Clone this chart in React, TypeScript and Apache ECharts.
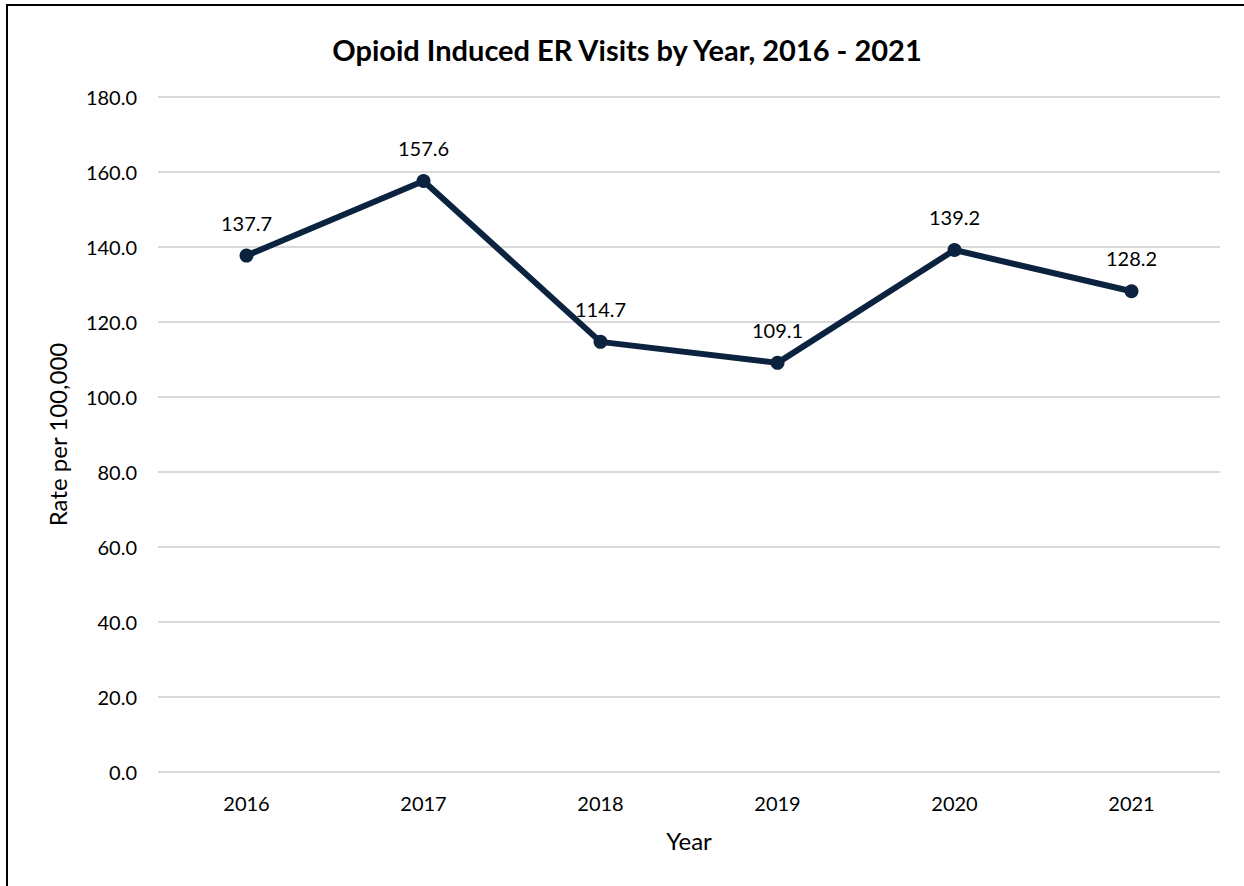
import React, { useEffect, useRef } from "react";
import * as echarts from "echarts";

const years = ["2016", "2017", "2018", "2019", "2020", "2021"];
const rates = [137.7, 157.6, 114.7, 109.1, 139.2, 128.2];
const titleText = "Opioid Induced ER Visits by Year, 2016 - 2021";
const yName = "Rate per 100,000";
const xName = "Year";

const FONT = "Lato, 'Open Sans', sans-serif";

export default function App() {
  const ref = useRef<HTMLDivElement>(null);
  useEffect(() => {
    const chart = echarts.init(ref.current!, null, { renderer: "svg" });
    chart.setOption({
      animation: false,
      backgroundColor: "#ffffff",
      textStyle: { fontFamily: FONT },
      title: {
        text: titleText,
        left: 622,
        top: 30,
        textAlign: "center",
        textStyle: { fontSize: 29, fontWeight: "bold", color: "#000", fontFamily: FONT },
      },
      graphic: [
        {
          type: "rect",
          shape: { x: 7, y: 5, width: 1260, height: 900 },
          style: { fill: "none", stroke: "#000", lineWidth: 2 },
          silent: true,
        },
      ],
      grid: { left: 158, right: 24, top: 97, bottom: 114, containLabel: false },
      xAxis: {
        type: "category",
        data: years,
        boundaryGap: true,
        name: xName,
        nameLocation: "middle",
        nameGap: 56,
        nameTextStyle: { fontSize: 24, color: "#000", fontFamily: FONT },
        axisLine: { show: false },
        axisTick: { show: false },
        axisLabel: { fontSize: 20, color: "#000", margin: 21, fontFamily: FONT },
      },
      yAxis: {
        type: "value",
        min: 0,
        max: 180,
        interval: 20,
        name: yName,
        nameLocation: "middle",
        nameGap: 89,
        nameTextStyle: { fontSize: 24, color: "#000", fontFamily: FONT },
        axisLine: { show: false },
        axisTick: { show: false },
        axisLabel: {
          fontSize: 20,
          color: "#000",
          margin: 21,
          fontFamily: FONT,
          formatter: (v: number) => v.toFixed(1),
        },
        splitLine: { lineStyle: { color: "#d9d9d9", width: 2 } },
      },
      series: [
        {
          type: "line",
          data: rates,
          symbol: "circle",
          symbolSize: 14,
          lineStyle: { color: "#0c2340", width: 6 },
          itemStyle: { color: "#0c2340" },
          label: {
            show: true,
            position: "top",
            distance: 16,
            fontSize: 20,
            color: "#000",
            fontFamily: FONT,
            formatter: (p: any) => Number(p.value).toFixed(1),
          },
        },
      ],
    });
    return () => chart.dispose();
  }, []);
  return (
    <div
      ref={ref}
      style={{ position: "absolute", left: 0, top: 0, width: 1244, height: 886 }}
    />
  );
}
